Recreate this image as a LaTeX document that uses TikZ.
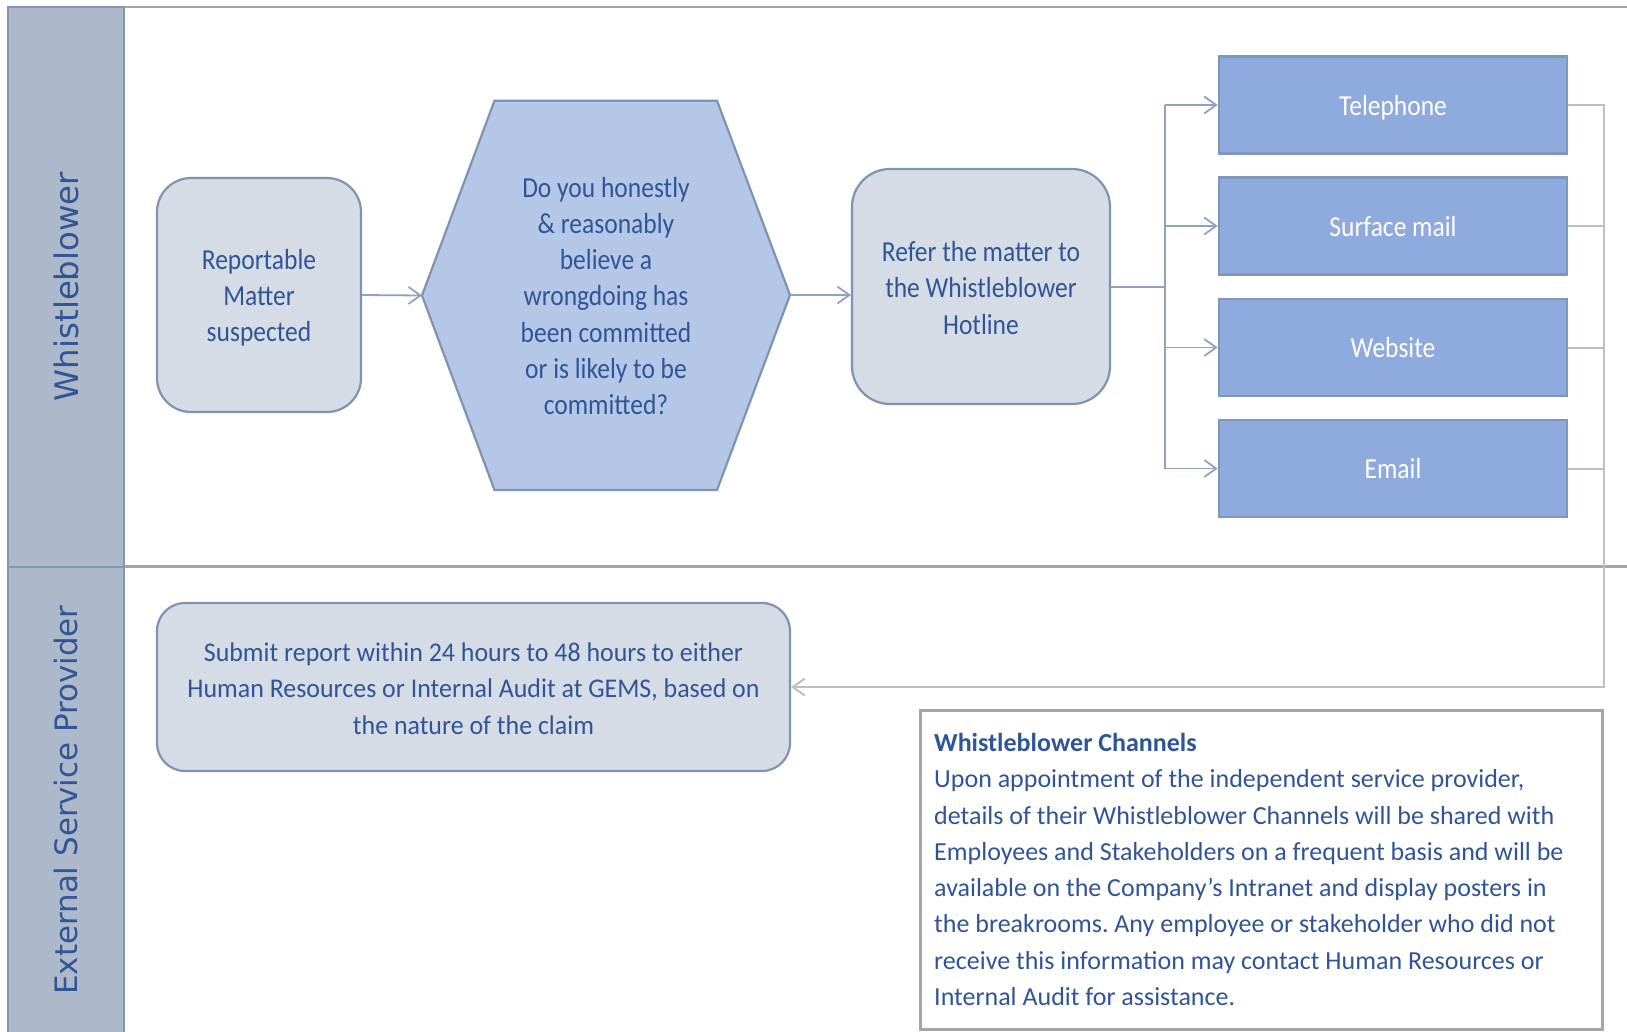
\documentclass[tikz,border=0pt]{standalone}
\usepackage{fontspec}
\setmainfont{Carlito}
\newfontfamily\boxfont{Carlito}[FakeStretch=0.88]
\newfontfamily\subfont{Carlito}[FakeStretch=0.96]
\newfontfamily\lanefont{DejaVu Sans}
\usetikzlibrary{arrows.meta}
\frenchspacing
\definecolor{bandfill}{HTML}{ADB9CA}
\definecolor{bandline}{HTML}{8497B0}
\definecolor{boxfill}{HTML}{D6DCE5}
\definecolor{boxline}{HTML}{7F93B3}
\definecolor{hexfill}{HTML}{B4C7E7}
\definecolor{chfill}{HTML}{8FAADC}
\definecolor{chline}{HTML}{7F96BD}
\definecolor{txt}{HTML}{2F5597}
\definecolor{laneline}{HTML}{A6A6A6}
\definecolor{lightgrayline}{HTML}{BFBFBF}
\definecolor{conn}{HTML}{8EA3C2}
\tikzset{
  procbox/.style={draw=boxline, fill=boxfill, line width=2.2pt, text=txt, align=center,
    font=\boxfont\fontsize{29}{36.3}\selectfont, inner sep=0pt},
  chbox/.style={draw=chline, fill=chfill, line width=2.5pt, text=white, inner sep=0pt,
    text height=22pt, text depth=2pt,
    minimum width=348, minimum height=97, font=\boxfont\fontsize{29}{36.3}\selectfont},
  bluearrow/.style={draw=conn, line width=1.8pt, -{Straight Barb[length=12pt,width=17pt,line width=1.8pt]}},
  blueline/.style={draw=conn, line width=1.8pt},
  grayconn/.style={draw=lightgrayline, line width=2pt},
  grayarrow/.style={draw=lightgrayline, line width=2pt, -{Straight Barb[length=12pt,width=17pt,line width=2pt]}},
  lanelabel/.style={rotate=90, text=txt, inner sep=0pt},
  notebox/.style={draw=laneline, line width=2.5pt, fill=white, inner sep=0pt},
}
\begin{document}
\begin{tikzpicture}[x=1pt,y=-1pt]
\useasboundingbox (0,0) rectangle (1627,1031);
\fill[white] (0,0) rectangle (1627,1031);
% lanes
\fill[bandfill] (8,7) rectangle (124,1040);
\draw[laneline, line width=2.5pt] (124,7) -- (1627,7);
\draw[laneline, line width=2.5pt] (124,566.5) -- (1627,566.5);
\draw[bandline, line width=2pt] (8,1040) -- (8,7) -- (124,7) -- (124,1040);
\draw[bandline, line width=2pt] (8,566.5) -- (124,566.5);
\node[lanelabel, font=\lanefont\fontsize{32.4}{36}\selectfont] (lane1) at (66,286.5) {Whistleblower};
\node[lanelabel, font=\lanefont\fontsize{30.9}{36}\selectfont] (lane2) at (66,800) {External Service Provider};
% process boxes
\node[procbox, rounded corners=34, minimum width=204, minimum height=234] (rep) at (259,295) {\rule{0pt}{26pt}Reportable\\Matter\\suspected};
\coordinate (hexW) at (422,295.5);
\coordinate (hexE) at (790,295);
\filldraw[fill=hexfill, draw=boxline, line width=2.2pt, line join=miter]
  (hexW) -- (494.5,100.7) -- (717,100.7) -- (hexE) -- (717,490) -- (494.5,490) -- cycle;
\node[text=txt, align=center, inner sep=0pt, font=\boxfont\fontsize{29}{36.3}\selectfont] (hex) at (606,296)
  {Do you honestly\\\& reasonably\\believe a\\wrongdoing has\\been committed\\or is likely to be\\committed?};
\node[procbox, rounded corners=38, minimum width=258, minimum height=235] (refer) at (981,286.5) {\rule{0pt}{23pt}Refer the matter to\\the Whistleblower\\Hotline};
% channels
\node[chbox] (tel) at (1393,105) {Telephone};
\node[chbox] (surf) at (1393,226) {Surface mail};
\node[chbox] (web) at (1393,347.5) {Website};
\node[chbox] (email) at (1393,468.5) {Email};
% submit
\node[procbox, font=\subfont\fontsize{27}{36.3}\selectfont, rounded corners=28, minimum width=633, minimum height=168] (sub) at (473.5,687)
  {\rule{0pt}{22pt}Submit report within 24 hours to 48 hours to either\\Human Resources or Internal Audit at GEMS, based on\\the nature of the claim};
% connectors
\draw[bluearrow] (rep.east) -- (hexW);
\draw[bluearrow] (hexE) -- (refer.west |- hexE);
\coordinate (br) at (1165,287);
\draw[blueline] (refer.east |- br) -- (br);
\draw[blueline] (br |- tel.west) -- (br |- email.west);
\draw[bluearrow] (br |- tel.west) -- (tel.west);
\draw[bluearrow] (br |- surf.west) -- (surf.west);
\draw[bluearrow] (br |- web.west) -- (web.west);
\draw[bluearrow] (br |- email.west) -- (email.west);
\coordinate (rt) at (1603.7,105);
\draw[grayconn] (surf.east) -- (rt |- surf.east);
\draw[grayconn] (web.east) -- (rt |- web.east);
\draw[grayconn] (email.east) -- (rt |- email.east);
\draw[grayarrow] (tel.east) -- (rt) -- (rt |- sub.east) -- (sub.east);
% note
\node[notebox, minimum width=682, minimum height=319, anchor=north west] (note) at (919,709) {};
\node[anchor=north west, inner sep=0pt, align=left, text=txt, font=\fontsize{26}{36.3}\selectfont] (notetext) at (934,733)
  {\textbf{Whistleblower Channels}\\
   Upon appointment of the independent service provider,\\
   details of their Whistleblower Channels will be shared with\\
   Employees and Stakeholders on a frequent basis and will be\\
   available on the Company’s Intranet and display posters in\\
   the breakrooms. Any employee or stakeholder who did not\\
   receive this information may contact Human Resources or\\
   Internal Audit for assistance.};
\end{tikzpicture}
\end{document}
